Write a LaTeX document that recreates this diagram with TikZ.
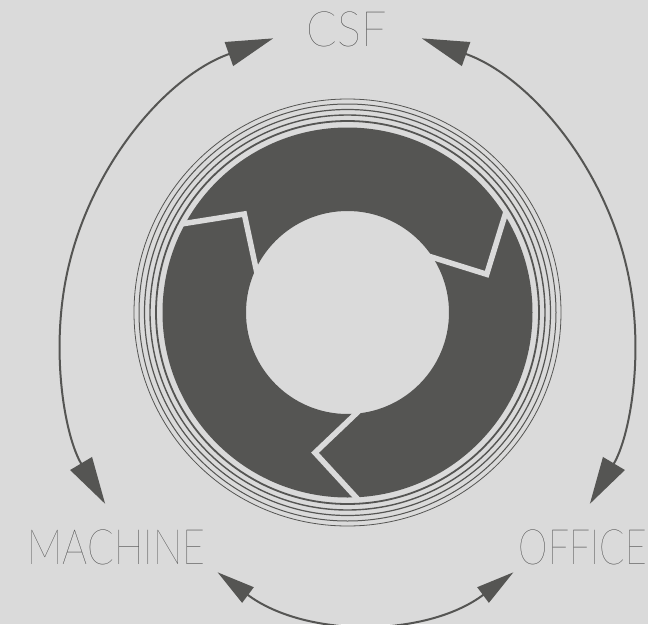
\documentclass[tikz,border=0pt]{standalone}
\usepackage{fontspec}
\usepackage{graphicx}
\usetikzlibrary{arrows.meta}
\IfFontExistsTF{Lato Thin}{\newfontfamily\thinfont{Lato Thin}}{%
  \IfFontExistsTF{Lato Hairline}{\newfontfamily\thinfont{Lato Hairline}}{%
    \IfFontExistsTF{Poppins Thin}{\newfontfamily\thinfont{Poppins Thin}}{%
      \IfFontExistsTF{Lato Light}{\newfontfamily\thinfont{Lato Light}}{%
        \newfontfamily\thinfont{Liberation Sans}}}}}
\definecolor{bg}{HTML}{DADADA}
\definecolor{dk}{HTML}{555553}
\definecolor{txt}{HTML}{3C3C3C}
\tikzset{
  lbl/.style={inner sep=0pt, outer sep=0pt, text=txt, anchor=center},
  bigarc/.style={draw=dk, line width=2pt,
    {Triangle[length=47pt,width=25pt]}-{Triangle[length=47pt,width=25pt]}},
  smallarc/.style={draw=dk, line width=2pt,
    {Triangle[length=38pt,width=19pt]}-{Triangle[length=38pt,width=19pt]}},
  gap/.style={draw=bg, line width=5.5pt, line join=miter, line cap=butt},
}
\begin{document}
\begin{tikzpicture}[x=1pt,y=-1pt]
\fill[bg] (0,0) rectangle (648,624);
\useasboundingbox (0,0) rectangle (648,624);
\coordinate (c) at (347.5,312.5);
% ring
\fill[dk,even odd rule] (c) circle[radius=185] (c) circle[radius=101.5];
\foreach \r/\w in {191.5/1.8, 197.5/1.4, 203/1.2, 208.5/1.0, 213.5/0.8}
  \draw[dk,line width=\w pt] (c) circle[radius=\r];
% dividers
\begin{scope}
  \clip (c) circle[radius=186];
  \draw[gap] (175,225) -- (244.3,214) -- (258,278);
  \draw[gap] (509,202) -- (486.7,274.3) -- (425,255);
  \draw[gap] (364,506) -- (315,452.7) -- (363,407);
\end{scope}
% labels
\node[lbl] (csf) at (347,29.5) {\resizebox*{80pt}{35pt}{\thinfont CSF}};
\node[lbl] (machine) at (116.5,547.5) {\resizebox*{178pt}{35pt}{\thinfont MACHINE}};
\node[lbl] (office) at (583,547.5) {\resizebox*{128pt}{35pt}{\thinfont OFFICE}};
% arcs
\coordinate (lc) at (380,340);
\coordinate (rc) at (315,340);
\coordinate (bc) at (365.5,374.5);
\draw[bigarc] (lc) ++(250.5:320) arc[start angle=250.5,end angle=149.2,radius=320];
\draw[bigarc] (rc) ++(-70.5:320) arc[start angle=-70.5,end angle=30.8,radius=320];
\draw[smallarc] (bc) ++(126.8:247) arc[start angle=126.8,end angle=53.2,radius=247];
\end{tikzpicture}
\end{document}
